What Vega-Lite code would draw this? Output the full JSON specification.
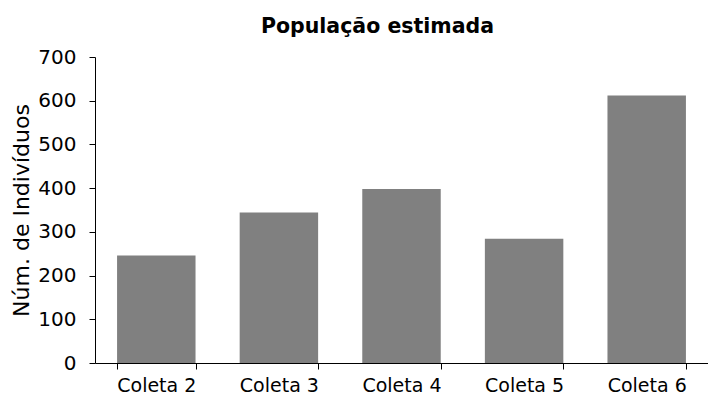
{
  "$schema": "https://vega.github.io/schema/vega-lite/v6.json",
  "width": 613,
  "height": 306,
  "autosize": "none",
  "padding": {"left": 95, "top": 57, "right": 0, "bottom": 35},
  "background": "white",
  "title": {
    "text": "População estimada",
    "font": "DejaVu Sans",
    "fontSize": 20.5,
    "fontWeight": "bold",
    "color": "#000000",
    "anchor": "middle",
    "dx": -24,
    "offset": 10
  },
  "data": {
    "values": [
      {"coleta": "Coleta 2", "n": 246},
      {"coleta": "Coleta 3", "n": 344},
      {"coleta": "Coleta 4", "n": 398},
      {"coleta": "Coleta 5", "n": 284},
      {"coleta": "Coleta 6", "n": 612}
    ]
  },
  "mark": {"type": "bar", "color": "#808080"},
  "encoding": {
    "x": {
      "field": "coleta",
      "type": "nominal",
      "sort": null,
      "scale": {"paddingInner": 0.36, "paddingOuter": 0.18},
      "axis": {
        "title": null,
        "labelAngle": 0,
        "labelFont": "DejaVu Sans",
        "labelFontSize": 19,
        "labelColor": "#000000",
        "labelPadding": 7,
        "domainColor": "#000000",
        "tickColor": "#000000",
        "tickSize": 6,
        "tickBand": "extent",
        "grid": false
      }
    },
    "y": {
      "field": "n",
      "type": "quantitative",
      "scale": {"domain": [0, 700]},
      "axis": {
        "title": "Núm. de Indivíduos",
        "titleFont": "DejaVu Sans",
        "titleFontSize": 22,
        "titleFontWeight": "normal",
        "titleColor": "#000000",
        "titlePadding": 4,
        "values": [0, 100, 200, 300, 400, 500, 600, 700],
        "labelFont": "DejaVu Sans",
        "labelFontSize": 20,
        "labelColor": "#000000",
        "labelPadding": 13,
        "domainColor": "#000000",
        "tickColor": "#000000",
        "tickSize": 6,
        "grid": false
      }
    }
  },
  "config": {"view": {"stroke": null}}
}
